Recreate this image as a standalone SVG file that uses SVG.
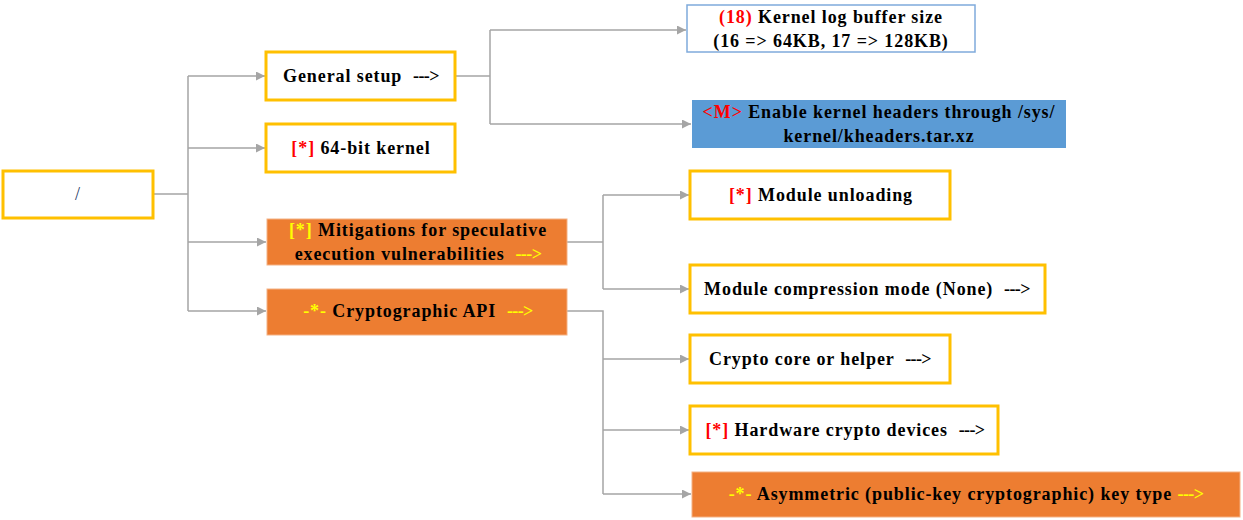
<svg xmlns="http://www.w3.org/2000/svg" width="1243" height="520" viewBox="0 0 1243 520" xml:space="preserve">
<style>
.t{font-family:"Liberation Serif","Times New Roman",serif;font-weight:bold;font-size:18px;fill:#000;text-anchor:middle;letter-spacing:0.9px;white-space:pre}
.r{fill:#FF0000}
.y{fill:#FFFF00}
.a{letter-spacing:-0.6px}
.wb{fill:#fff;stroke:#FFC000;stroke-width:3}
.ob{fill:#ED7D31;stroke:#F4B183;stroke-width:1}
.c{fill:none;stroke:#A5A5A5;stroke-width:1.5}
</style>
<defs>
<marker id="ah" viewBox="0 0 10 10" refX="10" refY="5" markerWidth="10" markerHeight="9" markerUnits="userSpaceOnUse" orient="auto">
<path d="M0,0 L10,5 L0,10 z" fill="#A5A5A5"/>
</marker>
</defs>
<rect width="1243" height="520" fill="#fff"/>
<g id="connectors">
<path class="c" d="M153,194 H188 M188,76 V311"/>
<path class="c" d="M188,76 H265" marker-end="url(#ah)"/>
<path class="c" d="M188,148 H265" marker-end="url(#ah)"/>
<path class="c" d="M188,242 H266" marker-end="url(#ah)"/>
<path class="c" d="M188,311 H266" marker-end="url(#ah)"/>
<path class="c" d="M455,76 H490 M490,30 V124"/>
<path class="c" d="M490,30 H686" marker-end="url(#ah)"/>
<path class="c" d="M490,124 H691" marker-end="url(#ah)"/>
<path class="c" d="M567,242 H603 M603,195 V289"/>
<path class="c" d="M603,195 H689" marker-end="url(#ah)"/>
<path class="c" d="M603,289 H689" marker-end="url(#ah)"/>
<path class="c" d="M567,311 H603 V494"/>
<path class="c" d="M603,359 H689" marker-end="url(#ah)"/>
<path class="c" d="M603,430 H689" marker-end="url(#ah)"/>
<path class="c" d="M603,494 H691" marker-end="url(#ah)"/>
</g>
<g id="root">
<rect class="wb" x="3" y="171" width="150" height="47"/>
<text class="t" x="78" y="200" style="font-weight:normal;fill:#1F3864">/</text>
</g>
<g id="general-setup">
<rect class="wb" x="266" y="52" width="189" height="48"/>
<text class="t" x="361" y="82">General setup  <tspan class="a">---&gt;</tspan></text>
</g>
<g id="64bit">
<rect class="wb" x="266" y="124" width="189" height="48"/>
<text class="t" x="361" y="154"><tspan class="r">[*]</tspan> 64-bit kernel</text>
</g>
<g id="mitigations">
<rect class="ob" x="267" y="219" width="300" height="46"/>
<text class="t" x="418" y="236"><tspan class="y">[*]</tspan> Mitigations for speculative</text>
<text class="t" x="418" y="260">execution vulnerabilities  <tspan class="y a">---&gt;</tspan></text>
</g>
<g id="crypto-api">
<rect class="ob" x="267" y="289" width="300" height="46"/>
<text class="t" x="418" y="317"><tspan class="y">-*-</tspan> Cryptographic API  <tspan class="y a">---&gt;</tspan></text>
</g>
<g id="kernel-log">
<rect x="687" y="5" width="288" height="47" fill="#fff" stroke="#7FAADB" stroke-width="1.5"/>
<text class="t" x="831" y="23"><tspan class="r">(18)</tspan> Kernel log buffer size</text>
<text class="t" x="831" y="47">(16 =&gt; 64KB, 17 =&gt; 128KB)</text>
</g>
<g id="kheaders">
<rect x="692" y="100" width="374" height="48" fill="#5B9BD5"/>
<text class="t" x="879" y="118"><tspan class="r">&lt;M&gt;</tspan> Enable kernel headers through /sys/</text>
<text class="t" x="879" y="142">kernel/kheaders.tar.xz</text>
</g>
<g id="module-unloading">
<rect class="wb" x="690" y="171" width="260" height="48"/>
<text class="t" x="821" y="201"><tspan class="r">[*]</tspan> Module unloading</text>
</g>
<g id="module-compression">
<rect class="wb" x="690" y="265" width="355" height="48"/>
<text class="t" x="867" y="295">Module compression mode (None)  <tspan class="a">---&gt;</tspan></text>
</g>
<g id="crypto-core">
<rect class="wb" x="690" y="335" width="260" height="48"/>
<text class="t" x="820" y="365">Crypto core or helper  <tspan class="a">---&gt;</tspan></text>
</g>
<g id="hw-crypto">
<rect class="wb" x="690" y="406" width="308" height="48"/>
<text class="t" x="845" y="436"><tspan class="r">[*]</tspan> Hardware crypto devices  <tspan class="a">---&gt;</tspan></text>
</g>
<g id="asymmetric">
<rect class="ob" x="692" y="472" width="548" height="45"/>
<text class="t" x="966" y="500"><tspan class="y">-*-</tspan> Asymmetric (public-key cryptographic) key type <tspan class="y a">---&gt;</tspan></text>
</g>
</svg>
